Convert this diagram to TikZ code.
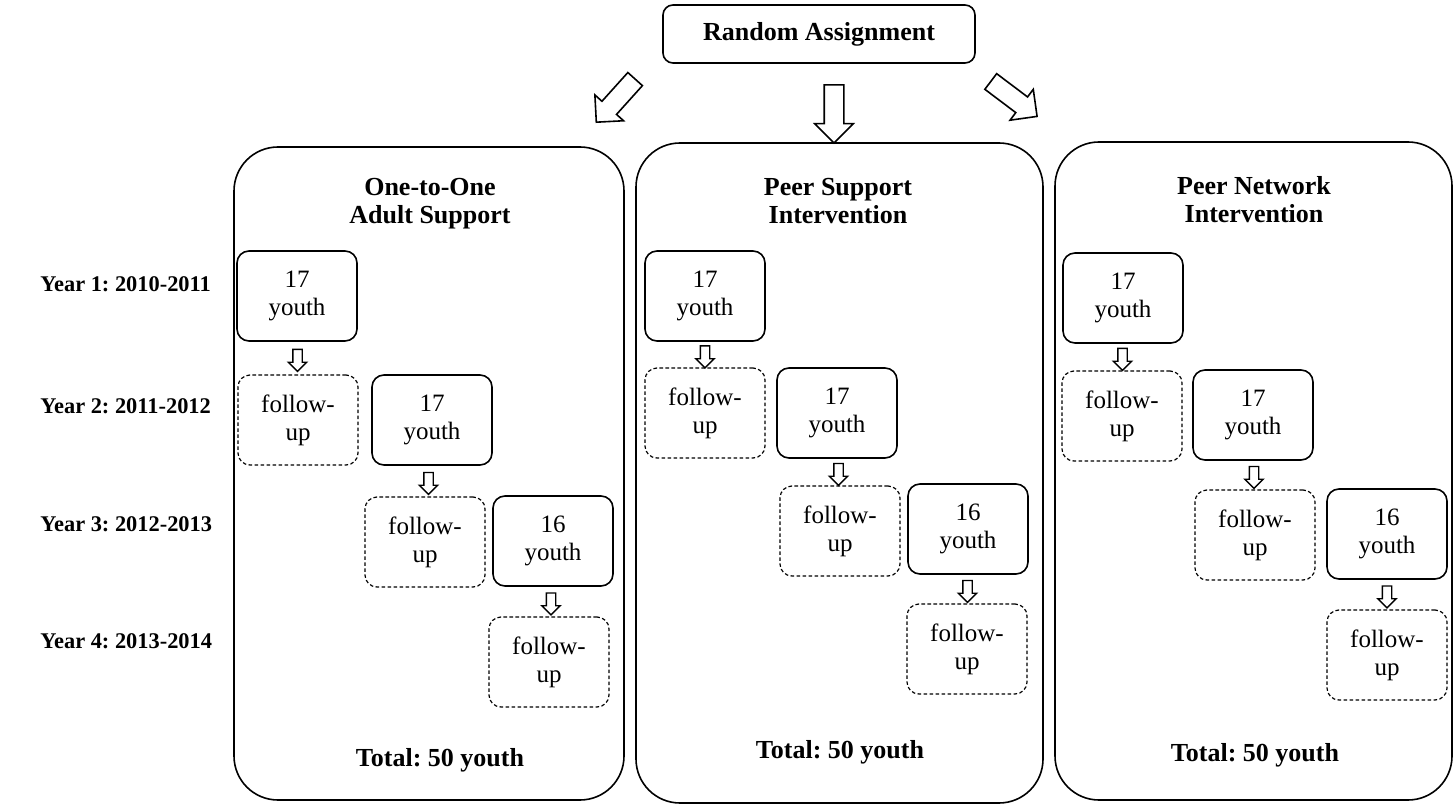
\documentclass[tikz,border=0pt]{standalone}
\usepackage{fontspec}
\setmainfont{Liberation Serif}
\frenchspacing
\usetikzlibrary{shapes.arrows,calc}

\tikzset{
  grp/.style={draw, line width=0.8pt, rounded corners=22pt},
  ttl/.style={font=\fontsize{13}{14}\selectfont\bfseries, align=center},
  yr/.style={font=\fontsize{11.2}{13}\selectfont\bfseries, anchor=west, inner sep=0pt},
  youth/.style={draw, line width=0.8pt, rounded corners=6pt, minimum width=60pt,
    minimum height=45pt, align=center, inner sep=1pt, font=\fontsize{12.5}{14}\selectfont},
  fup/.style={youth, line width=0.6pt, dash pattern=on 1.8pt off 1.2pt},
  bigarr/.style={draw, single arrow, line width=0.8pt, minimum height=29pt,
    inner sep=4.5pt, single arrow head extend=4.75pt},
  smallarr/.style={draw, single arrow, line width=0.7pt, minimum height=11pt,
    inner sep=2pt, single arrow head extend=2.25pt},
}

\begin{document}
\begin{tikzpicture}[x=0.5pt, y=-0.5pt]
    \useasboundingbox (0,0) rectangle (1456,807);

    % Asignacion aleatoria
    \node[draw, line width=0.8pt, rounded corners=5pt, minimum width=156pt, minimum height=29pt,
      font=\fontsize{13}{14}\selectfont\bfseries] (ra) at (819,34) {Random Assignment};
    \node[bigarr, rotate=-132] (a1) at (619,97) {};
    \node[bigarr, rotate=-90] (a2) at (834,109) {};
    \node[bigarr, rotate=-37] (a3) at (1010,96) {};

    % Anos
    \node[yr] (y1) at (40,284) {Year 1: 2010-2011};
    \node[yr] (y2) at (40,406) {Year 2: 2011-2012};
    \node[yr] (y3) at (40,524) {Year 3: 2012-2013};
    \node[yr] (y4) at (40,641) {Year 4: 2013-2014};

    % Grupo 1
    \node[grp, minimum width=195pt, minimum height=326.5pt] (g1) at (429,473.5) {};
    \node[ttl] (t1) at (430,204) {One-to-One\\Adult Support};
    \node[youth] (p1) at (297,296) {17\\youth};
    \node[fup] (f1) at (298,420) {follow-\\up};
    \node[youth] (p2) at (432,420) {17\\youth};
    \node[fup] (f2) at (425,542) {follow-\\up};
    \node[youth] (p3) at (553,541) {16\\youth};
    \node[fup] (f3) at (549,662) {follow-\\up};
    \node[smallarr, rotate=-90] at ($(p1.south)!0.5!(f1.north)$) {};
    \node[smallarr, rotate=-90] at ($(p2.south)!0.5!(f2.north)$) {};
    \node[smallarr, rotate=-90] at ($(p3.south)!0.5!(f3.north)$) {};
    \node[ttl] (s1) at (440,760) {Total: 50 youth};

    % Grupo 2
    \node[grp, minimum width=203.5pt, minimum height=330pt] (g2) at (839.5,473) {};
    \node[ttl] (t2) at (838,201) {Peer Support\\Intervention};
    \node[youth] (q1) at (705,296) {17\\youth};
    \node[fup] (h1) at (705,413) {follow-\\up};
    \node[youth] (q2) at (837,413) {17\\youth};
    \node[fup] (h2) at (840,531) {follow-\\up};
    \node[youth] (q3) at (968,529) {16\\youth};
    \node[fup] (h3) at (967,649) {follow-\\up};
    \node[smallarr, rotate=-90] at ($(q1.south)!0.5!(h1.north)$) {};
    \node[smallarr, rotate=-90] at ($(q2.south)!0.5!(h2.north)$) {};
    \node[smallarr, rotate=-90] at ($(q3.south)!0.5!(h3.north)$) {};
    \node[ttl] (s2) at (840,752) {Total: 50 youth};

    % Grupo 3
    \node[grp, minimum width=198.5pt, minimum height=329pt] (g3) at (1253.5,471) {};
    \node[ttl] (t3) at (1254,200) {Peer Network\\Intervention};
    \node[youth] (r1) at (1123,298) {17\\youth};
    \node[fup] (k1) at (1122,416) {follow-\\up};
    \node[youth] (r2) at (1253,415) {17\\youth};
    \node[fup] (k2) at (1255,535) {follow-\\up};
    \node[youth] (r3) at (1387,534) {16\\youth};
    \node[fup] (k3) at (1387,655) {follow-\\up};
    \node[smallarr, rotate=-90] at ($(r1.south)!0.5!(k1.north)$) {};
    \node[smallarr, rotate=-90] at ($(r2.south)!0.5!(k2.north)$) {};
    \node[smallarr, rotate=-90] at ($(r3.south)!0.5!(k3.north)$) {};
    \node[ttl] (s3) at (1255,755) {Total: 50 youth};
\end{tikzpicture}
\end{document}
